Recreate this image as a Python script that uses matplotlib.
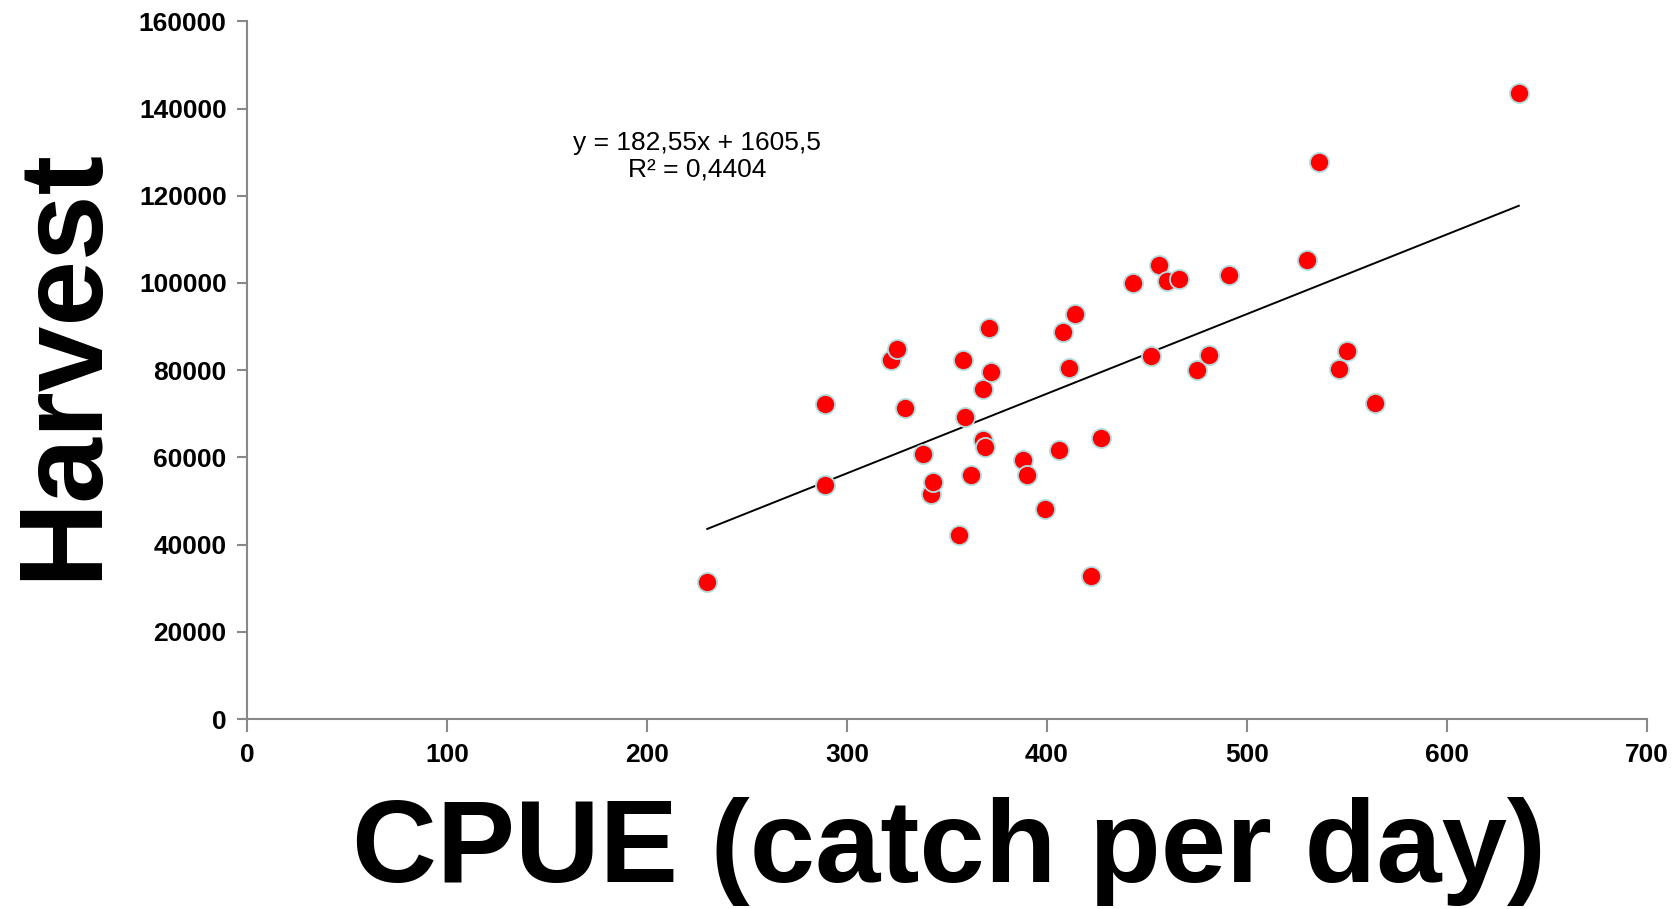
"""
CPUE 与渔获量 (Harvest) 的散点图及线性趋势线
"""

import numpy as np
import matplotlib.pyplot as plt

plt.rcParams['font.family'] = ['Liberation Sans', 'DejaVu Sans']

# 每日渔获量 (CPUE)
cpue = [230, 289, 289, 322, 325, 329, 338, 342, 343, 356,
        358, 359, 362, 368, 368, 369, 371, 372, 388, 390,
        399, 406, 408, 411, 414, 422, 427, 443, 452, 456,
        460, 466, 475, 481, 491, 530, 536, 546, 550, 564, 636]
# 渔获量
harvest = [31500, 72300, 53600, 82300, 84800, 71300, 60800, 51600, 54400, 42100,
           82400, 69300, 55900, 75800, 64000, 62300, 89700, 79500, 59400, 55900,
           48200, 61800, 88800, 80600, 93000, 32900, 64400, 100100, 83300, 104200,
           100500, 100900, 80000, 83500, 101800, 105200, 127800, 80200, 84500, 72400, 143500]

# Excel 趋势线参数
slope = 182.55
intercept = 1605.5
r2 = 0.4404

x_ticks = [0, 100, 200, 300, 400, 500, 600, 700]
y_ticks = [0, 20000, 40000, 60000, 80000, 100000, 120000, 140000, 160000]

fig = plt.figure(figsize=(16.8, 9.09), dpi=100)
ax = fig.add_axes([0.1473, 0.209, 0.8329, 0.7675])

# 趋势线
xl = np.array([min(cpue), max(cpue)])
ax.plot(xl, slope * xl + intercept, color='black', lw=1.4, zorder=2)

# 散点
ax.scatter(cpue, harvest, s=190, color='#ff0000', edgecolors='#b5dde0',
           linewidths=1.3, zorder=3)

ax.text(225, 129000, 'y = 182,55x + 1605,5\nR² = 0,4404', ha='center', va='center',
        multialignment='center', fontsize=19, linespacing=1.15)

ax.set_xlim(0, 700)
ax.set_ylim(0, 160000)
ax.set_xticks(x_ticks)
ax.set_yticks(y_ticks)
ax.tick_params(axis='both', colors='#888888', labelcolor='black', width=1.5,
               labelsize=19, direction='out')
ax.tick_params(axis='x', length=9, pad=8)
ax.tick_params(axis='y', length=7, pad=8)
for lab in ax.get_xticklabels() + ax.get_yticklabels():
    lab.set_fontweight('bold')

for side in ['top', 'right']:
    ax.spines[side].set_visible(False)
for side in ['left', 'bottom']:
    ax.spines[side].set_color('#888888')
    ax.spines[side].set_linewidth(1.5)

fig.text(0.565, 0.003, 'CPUE (catch per day)', ha='center', va='bottom',
         fontsize=84.5, fontweight='bold')
fig.text(0.0385, 0.600, 'Harvest', ha='center', va='center', rotation=90,
         fontsize=85, fontweight='bold')

fig.savefig('out.png', dpi=100)
